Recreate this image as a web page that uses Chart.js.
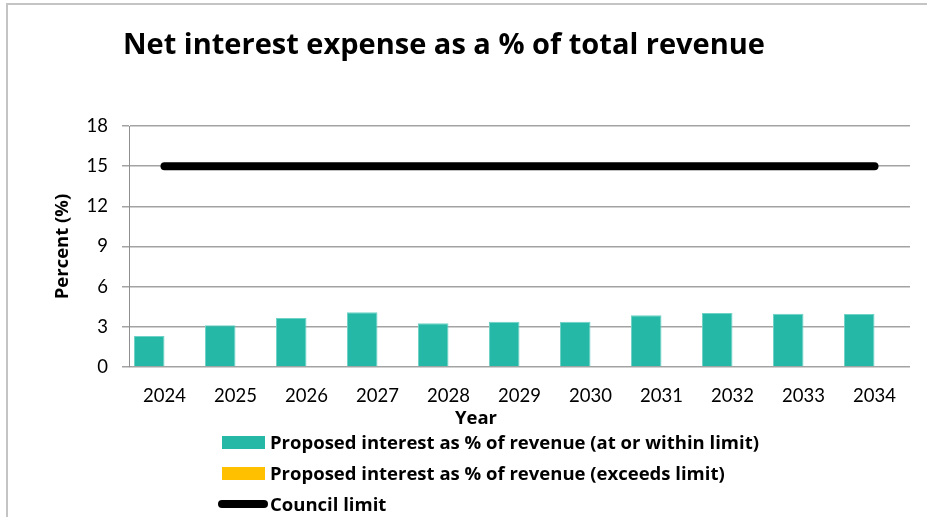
<!DOCTYPE html>
<html>
<head>
<meta charset="utf-8">
<script src="https://cdn.jsdelivr.net/npm/chart.js@4"></script>
<style>
    html, body { margin: 0; padding: 0; background: #fff; }
    #wrap { position: relative; width: 927px; height: 517px; overflow: hidden; }
    #frame { position: absolute; left: 6px; top: 3px; right: -10px; bottom: -10px;
             border-top: 2px solid #c4c4c4; border-left: 2px solid #c4c4c4; }
    #legend { position: absolute; left: 216px; top: 428px; font: bold 18.5px "Open Sans", sans-serif; color: #000; }
    .item { position: relative; height: 31px; line-height: 28px; padding-left: 54px; white-space: nowrap; }
    .swatch { position: absolute; left: 6px; top: 8px; width: 43px; height: 13px; }
    .swatch.line { left: 2px; top: 10px; width: 50px; height: 8px; border-radius: 4px; }
</style>
</head>
<body>
<div id="wrap">
    <div id="frame"></div>
    <canvas id="interestChart" width="927" height="517"></canvas>
    <div id="legend"></div>
</div>
<script>
var years = ['2024', '2025', '2026', '2027', '2028', '2029', '2030', '2031', '2032', '2033', '2034'];
var withinLimit = [2.31, 3.11, 3.66, 4.08, 3.26, 3.38, 3.38, 3.86, 4.03, 3.98, 3.96];
var exceedsLimit = [0, 0, 0, 0, 0, 0, 0, 0, 0, 0, 0];
var councilLimit = [15, 15, 15, 15, 15, 15, 15, 15, 15, 15, 15];
var yTicks = [0, 3, 6, 9, 12, 15, 18];

var chartTitle = 'Net interest expense as a % of total revenue';
var xTitle = 'Year';
var yTitle = 'Percent (%)';

// title and x axis caption sit off-centre, so they are drawn by hand
var captions = {
    id: 'captions',
    afterDraw: function (chart) {
        var ctx = chart.ctx;
        var area = chart.chartArea;
        ctx.save();
        ctx.fillStyle = '#000';
        ctx.textAlign = 'center';
        ctx.textBaseline = 'alphabetic';
        ctx.font = 'bold 29px "Open Sans", sans-serif';
        ctx.fillText(chartTitle, 444, 54);
        ctx.font = 'bold 18.5px "Open Sans", sans-serif';
        ctx.fillText(xTitle, area.left + 347, area.bottom + 57);
        ctx.restore();
    }
};

function buildLegend(chart) {
    var box = document.getElementById('legend');
    chart.data.datasets.forEach(function (ds) {
        var item = document.createElement('div');
        item.className = 'item';
        var sw = document.createElement('span');
        sw.className = ds.type === 'line' ? 'swatch line' : 'swatch';
        sw.style.background = ds.type === 'line' ? ds.borderColor : ds.backgroundColor;
        item.appendChild(sw);
        item.appendChild(document.createTextNode(ds.label));
        box.appendChild(item);
    });
}

var ctx = document.getElementById('interestChart').getContext('2d');
var interestChart = new Chart(ctx, {
    type: 'bar',
    data: {
        labels: years,
        datasets: [
            {
                label: 'Proposed interest as % of revenue (at or within limit)',
                data: withinLimit,
                backgroundColor: '#25b8a7',
                borderColor: '#6fd2c6',
                borderWidth: 1,
                categoryPercentage: 0.86,
                barPercentage: 1,
                order: 2
            },
            {
                label: 'Proposed interest as % of revenue (exceeds limit)',
                data: exceedsLimit,
                backgroundColor: '#ffc000',
                borderWidth: 0,
                categoryPercentage: 0.86,
                barPercentage: 1,
                order: 3
            },
            {
                type: 'line',
                label: 'Council limit',
                data: councilLimit,
                borderColor: '#000',
                backgroundColor: '#000',
                borderWidth: 8,
                borderCapStyle: 'round',
                pointRadius: 0,
                fill: false,
                order: 1
            }
        ]
    },
    options: {
        responsive: false,
        animation: false,
        layout: {
            padding: { left: 0, top: 126, right: 17, bottom: 110 }
        },
        plugins: {
            legend: { display: false },
            title: { display: false },
            tooltip: { enabled: false }
        },
        scales: {
            x: {
                grid: { display: false, drawTicks: false },
                border: { display: false },
                ticks: {
                    color: '#000',
                    padding: 18,
                    font: { family: 'Lato', size: 18.5 }
                },
                afterFit: function (scale) { scale.height = 40; }
            },
            y: {
                min: 0,
                max: 18,
                afterBuildTicks: function (scale) {
                    scale.ticks = yTicks.map(function (v) { return { value: v }; });
                },
                grid: { color: '#a3a3a3', lineWidth: 1.5, tickLength: 7, drawTicks: true },
                border: { display: true, color: '#8f8f8f', width: 1 },
                ticks: {
                    color: '#000',
                    padding: 14,
                    font: { family: 'Lato', size: 18.5 }
                },
                title: {
                    display: true,
                    text: yTitle,
                    color: '#000',
                    padding: { top: 52, bottom: 0 },
                    font: { family: 'Open Sans', size: 18.5, weight: 'bold' }
                },
                afterFit: function (scale) { scale.width = 129; }
            }
        }
    },
    plugins: [captions]
});

buildLegend(interestChart);
</script>
</body>
</html>
